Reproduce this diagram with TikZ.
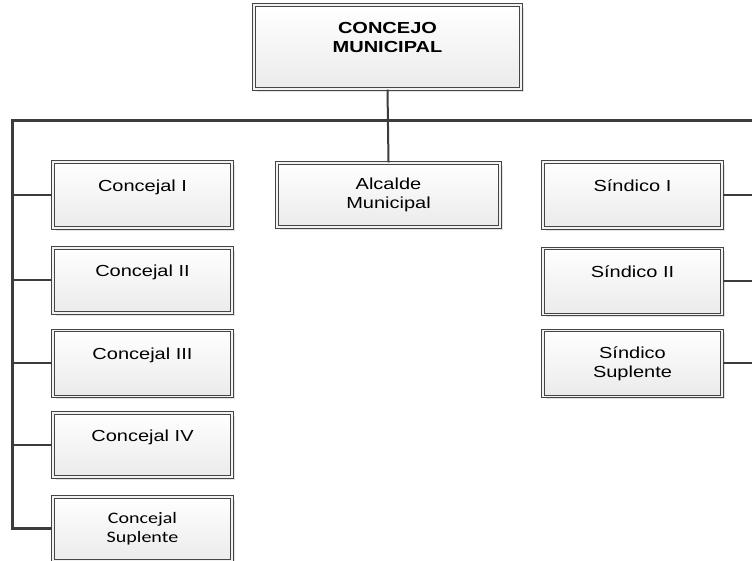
\documentclass[tikz,border=0pt]{standalone}
\usepackage{fontspec}
\setmainfont{Liberation Sans}[FakeStretch=1.25]
\newfontfamily\calib{Carlito}[FakeStretch=1.25]
\usetikzlibrary{shadows}
\definecolor{linec}{HTML}{3C3C3C}
\definecolor{boxline}{HTML}{454545}
\tikzset{
  orgbox/.style={draw=boxline, line width=1.1pt, double=white!95!black, double distance=1.2pt,
    top color=white, bottom color=black!8, align=center, inner sep=0pt,
    font=\fontsize{16}{19}\selectfont,
    drop shadow={shadow xshift=3pt, shadow yshift=-3pt, fill=black!14, opacity=0.8}},
  bus/.style={draw=linec, line width=3pt},
  link/.style={draw=linec, line width=2pt},
}
\begin{document}
\begin{tikzpicture}[x=1pt,y=1pt]
\useasboundingbox (0,0) rectangle (752,561);
% y coordinates are 561 - pixel row
\node[orgbox, minimum width=267, minimum height=84, font=\fontsize{16}{19}\selectfont\bfseries] (top) at (387.5,514) {CONCEJO\\MUNICIPAL\\\phantom{X}};
\node[orgbox, minimum width=223, minimum height=64] (alc) at (388.5,366) {Alcalde\\Municipal};
\node[orgbox, minimum width=179, minimum height=66] (c1) at (142.5,366) {Concejal I\\\phantom{X}};
\node[orgbox, minimum width=179, minimum height=65] (c2) at (142.5,280.5) {Concejal II\\\phantom{X}};
\node[orgbox, minimum width=179, minimum height=66] (c3) at (142.5,197.5) {Concejal III\\\phantom{X}};
\node[orgbox, minimum width=179, minimum height=64] (c4) at (142.5,116) {Concejal IV\\\phantom{X}};
\node[orgbox, minimum width=179, minimum height=64, font=\calib\fontsize{16}{19}\selectfont] (cs) at (142.5,32) {Concejal\\Suplente};
\node[orgbox, minimum width=179, minimum height=66] (s1) at (632.5,366) {Síndico I\\\phantom{X}};
\node[orgbox, minimum width=179, minimum height=66] (s2) at (632.5,279.5) {Síndico II\\\phantom{X}};
\node[orgbox, minimum width=179, minimum height=66] (ss) at (632.5,197.5) {Síndico\\Suplente};
\coordinate (L) at (12,440);
\coordinate (R) at (752,440);
\coordinate (RE) at (752,0);
\draw[link] (top.south) -- (alc.north);
\draw[bus] (R) -- (L) |- (cs.west);
\foreach \n in {c1,c2,c3,c4}{\draw[link] (\n.west) -- (\n.west -| L);}
\foreach \n in {s1,s2,ss}{\draw[link] (\n.east) -- (\n.east -| RE);}
\end{tikzpicture}
\end{document}
